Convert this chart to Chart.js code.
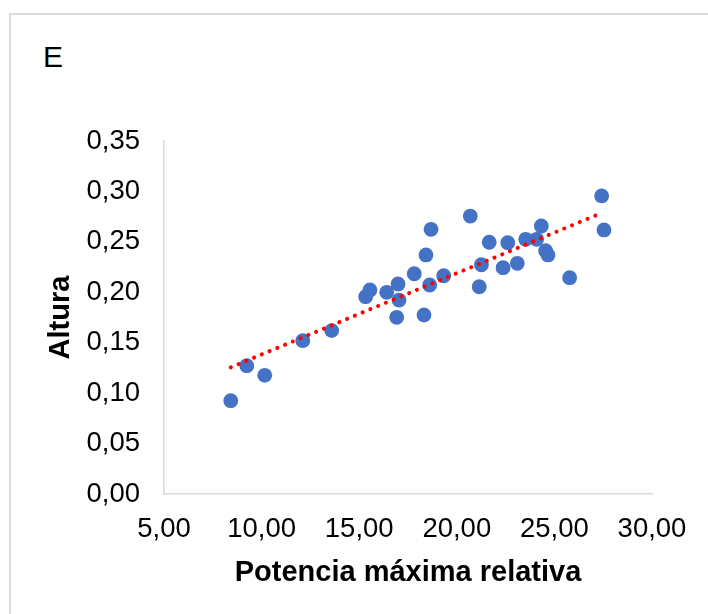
<!DOCTYPE html>
<html>
<head>
<meta charset="utf-8">
<script src="https://cdn.jsdelivr.net/npm/chart.js@4/dist/chart.umd.min.js"></script>
<style>
  html, body { margin: 0; padding: 0; background: #fff; }
  #wrap { position: relative; width: 708px; height: 614px; overflow: hidden; }
  #frame { position: absolute; left: 9px; top: 13px; width: 800px; height: 700px;
           border-top: 2px solid #D9D9D9; border-left: 2px solid #D9D9D9; }
  #panel { position: absolute; left: 43px; top: 42px; font-family: "Liberation Sans", Arial, sans-serif;
           font-size: 30px; line-height: 30px; color: #000; }
  canvas { position: absolute; left: 0; top: 0; }
</style>
</head>
<body>
<div id="wrap">
  <div id="frame"></div>
  <div id="panel">E</div>
  <canvas id="c" width="708" height="614"></canvas>
</div>
<script>
// Potencia máxima relativa (x) vs Altura (y)
const xValues = [8.42, 9.24, 10.16, 12.11, 13.59, 15.33, 15.55, 16.41, 16.99, 17.04, 16.92,
                 17.82, 18.32, 18.42, 18.61, 18.68, 19.33, 20.69, 21.15, 21.26, 21.66, 22.37,
                 22.61, 23.10, 23.53, 24.09, 24.33, 24.55, 24.67, 25.78, 27.42, 27.54];
const yValues = [0.0925, 0.1272, 0.1177, 0.152, 0.162, 0.1956, 0.2023, 0.200, 0.2082, 0.1923, 0.1752,
                 0.2184, 0.1775, 0.237, 0.2072, 0.2624, 0.2164, 0.2756, 0.2055, 0.2273, 0.2496, 0.2244,
                 0.2492, 0.2287, 0.2525, 0.2525, 0.2657, 0.2412, 0.237, 0.2145, 0.2955, 0.2618];
// Linear trendline endpoints
const trendX = [8.42, 27.2];
const trendY = [0.1256, 0.2769];

const xTicks = { min: 5, max: 30, step: 5 };
const yTicks = { min: 0, max: 0.35, step: 0.05 };
const xTitle = 'Potencia máxima relativa';
const yTitle = 'Altura';

const FONT = '"Liberation Sans", Arial, sans-serif';
const fmt = v => Number(v).toFixed(2).replace('.', ',');

const points = xValues.map((x, i) => ({ x: x, y: yValues[i] }));
const trend = trendX.map((x, i) => ({ x: x, y: trendY[i] }));

new Chart(document.getElementById('c'), {
  type: 'scatter',
  data: {
    datasets: [
      {
        type: 'line',
        data: trend,
        order: 0,
        borderColor: '#FF0000',
        borderWidth: 4,
        borderDash: [0.1, 8.3],
        borderCapStyle: 'round',
        pointRadius: 0,
        fill: false,
        tension: 0
      },
      {
        data: points,
        order: 1,
        backgroundColor: '#4472C4',
        borderColor: '#4472C4',
        borderWidth: 0,
        pointRadius: 7.4,
        pointHoverRadius: 7.4
      }
    ]
  },
  options: {
    responsive: false,
    animation: false,
    events: [],
    layout: { padding: { top: 141, right: 56, left: 0, bottom: 0 } },
    plugins: { legend: { display: false }, tooltip: { enabled: false } },
    scales: {
      x: {
        type: 'linear',
        min: xTicks.min, max: xTicks.max,
        grid: { display: false, drawTicks: false },
        border: { display: true, color: '#D9D9D9', width: 1.5 },
        ticks: {
          stepSize: xTicks.step, padding: 19, color: '#000',
          font: { family: FONT, size: 27.5 }, callback: v => fmt(v), maxRotation: 0
        },
        title: {
          display: true, text: xTitle, color: '#000',
          font: { family: FONT, size: 29, weight: 'bold' },
          padding: { top: 0, bottom: 24 }
        },
        afterFit: s => { s.height = 120; }
      },
      y: {
        type: 'linear',
        min: yTicks.min, max: yTicks.max,
        grid: { display: false, drawTicks: false },
        border: { display: true, color: '#D9D9D9', width: 1.5 },
        ticks: {
          stepSize: yTicks.step, padding: 24, color: '#000',
          font: { family: FONT, size: 27.5 }, callback: v => fmt(v)
        },
        title: {
          display: true, text: yTitle, color: '#000',
          font: { family: FONT, size: 29, weight: 'bold' },
          padding: { top: 44, bottom: 0 }
        },
        afterFit: s => { s.width = 164; }
      }
    }
  }
});
</script>
</body>
</html>
